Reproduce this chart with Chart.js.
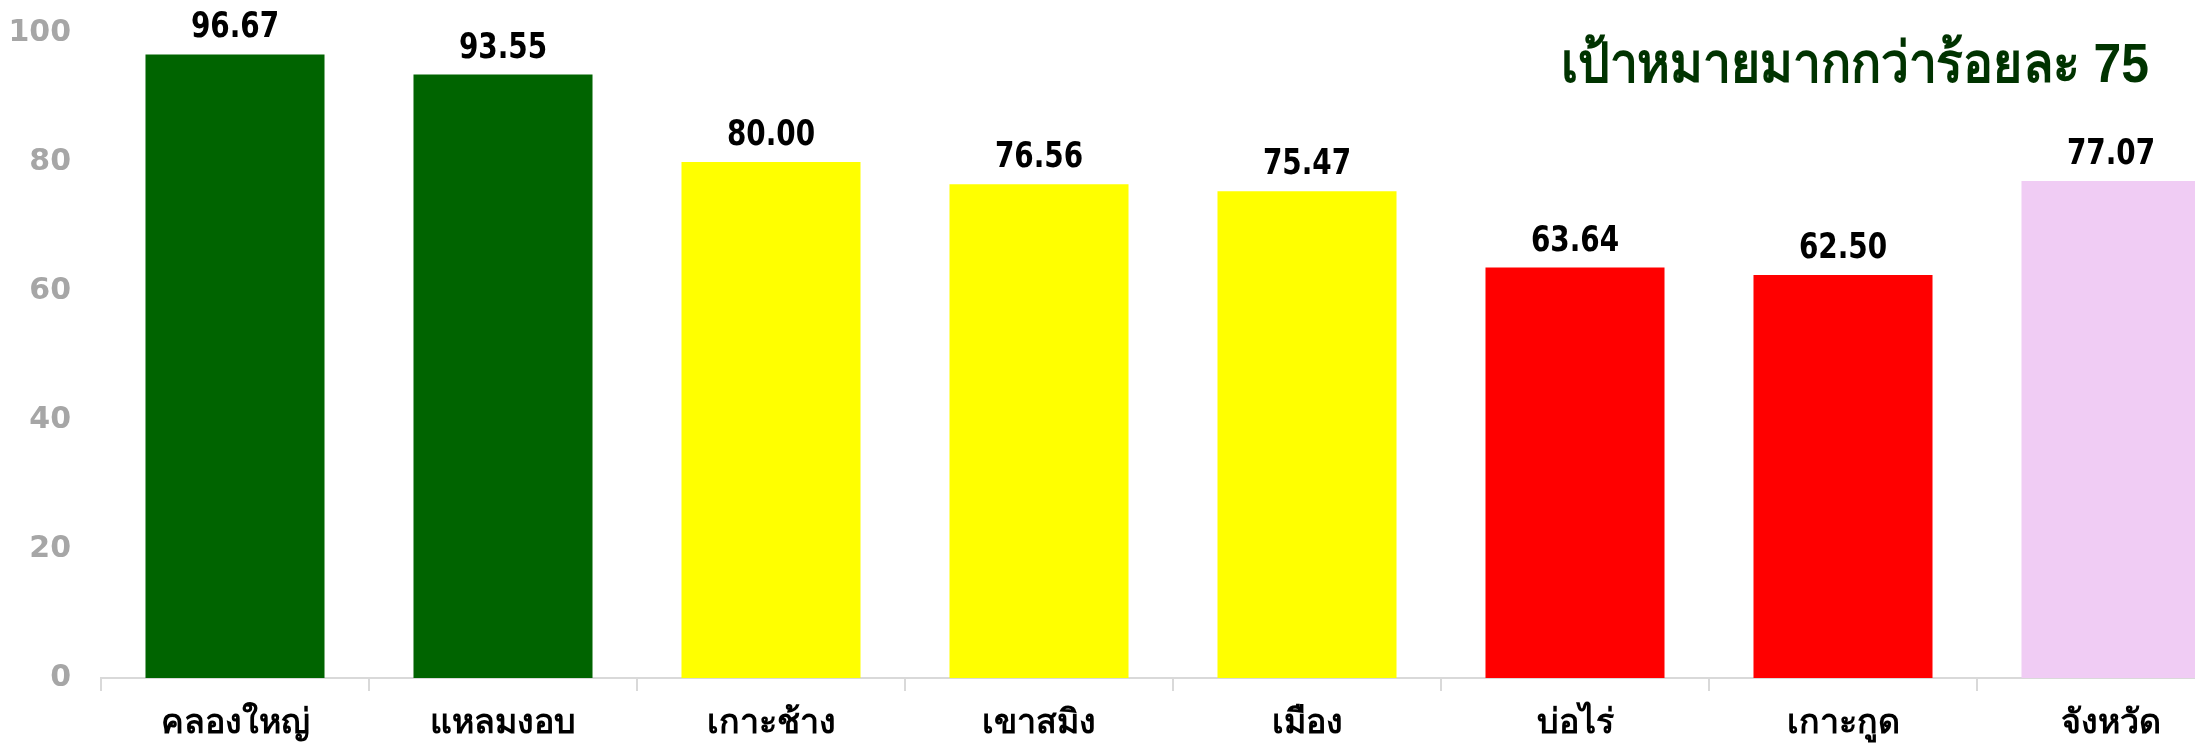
<!DOCTYPE html>
<html>
<head>
<meta charset="utf-8">
<script src="https://cdn.jsdelivr.net/npm/chart.js@4"></script>
<style>
  html, body { margin: 0; padding: 0; background: #fff; overflow: hidden; }
  #wrap { width: 2245px; height: 743px; position: relative; }
</style>
</head>
<body>
<div id="wrap"><canvas id="barChart"></canvas></div>
<script>
  const categories = ['คลองใหญ่', 'แหลมงอบ', 'เกาะช้าง', 'เขาสมิง', 'เมือง', 'บ่อไร่', 'เกาะกูด', 'จังหวัด'];
  const values = [96.67, 93.55, 80.00, 76.56, 75.47, 63.64, 62.50, 77.07];
  const yTicks = [0, 20, 40, 60, 80, 100];
  const titleText = 'เป้าหมายมากกว่าร้อยละ 75';

  // สีแท่ง: เขียว = ผ่านเป้า, เหลือง = ใกล้เป้า, แดง = ต่ำกว่าเป้า, ชมพู = ภาพรวมจังหวัด
  const barColors = ['#006400', '#006400', '#ffff00', '#ffff00', '#ffff00', '#ff0000', '#ff0000', '#f0ccf4'];

  // ======== ป้ายค่าบนแท่ง + หัวข้อมุมขวา ========
  const valueLabels = {
    id: 'valueLabels',
    afterDatasetsDraw(chart) {
      const ctx = chart.ctx;
      const meta = chart.getDatasetMeta(0);
      ctx.save();
      ctx.font = 'bold 31px "DejaVu Sans Condensed", "DejaVu Sans", sans-serif';
      ctx.fillStyle = '#000';
      ctx.textAlign = 'center';
      ctx.textBaseline = 'alphabetic';
      meta.data.forEach((bar, i) => {
        ctx.save();
        ctx.translate(bar.x, bar.y - 17);
        ctx.scale(1, 1.12);
        ctx.fillText(values[i].toFixed(2), 0, 0);
        ctx.restore();
      });
      // หัวข้อ บีบแนวนอนเล็กน้อยให้ได้ความกว้างใกล้ต้นฉบับ
      ctx.font = 'bold 56px "Liberation Sans", Arial, sans-serif';
      ctx.fillStyle = '#003300';
      ctx.textAlign = 'right';
      ctx.translate(2149, 82);
      ctx.scale(0.89, 1);
      ctx.fillText(titleText, 0, 0);
      ctx.restore();
    }
  };

  new Chart(document.getElementById('barChart'), {
    type: 'bar',
    data: {
      labels: categories,
      datasets: [{
        data: values,
        backgroundColor: barColors,
        barPercentage: 0.668,
        categoryPercentage: 1.0
      }]
    },
    options: {
      responsive: true,
      maintainAspectRatio: false,
      animation: false,
      layout: { padding: { top: 33, right: 0, bottom: 0, left: 0 } },
      plugins: {
        legend: { display: false },
        tooltip: { enabled: false }
      },
      scales: {
        x: {
          grid: {
            display: true,
            drawOnChartArea: false,
            drawTicks: true,
            tickLength: 13,
            color: '#d9d9d9',
            lineWidth: 2
          },
          border: { display: true, color: '#d9d9d9', width: 2 },
          ticks: {
            color: '#000',
            padding: 12,
            font: { family: 'Tahoma, "Noto Sans", sans-serif', size: 34, weight: 'bold' }
          },
          afterFit(scale) { scale.height = 65; }
        },
        y: {
          min: 0,
          max: 100,
          afterBuildTicks(scale) { scale.ticks = yTicks.map(v => ({ value: v })); },
          grid: { display: false, drawTicks: false },
          border: { display: false },
          ticks: {
            color: '#a6a6a6',
            padding: 30,
            font: { family: '"DejaVu Sans", Verdana, sans-serif', size: 30, weight: 'bold' }
          },
          afterFit(scale) {
            scale.width = 101;
            scale.paddingTop = 0;
            scale.paddingBottom = 0;
          }
        }
      }
    },
    plugins: [valueLabels]
  });
</script>
</body>
</html>
